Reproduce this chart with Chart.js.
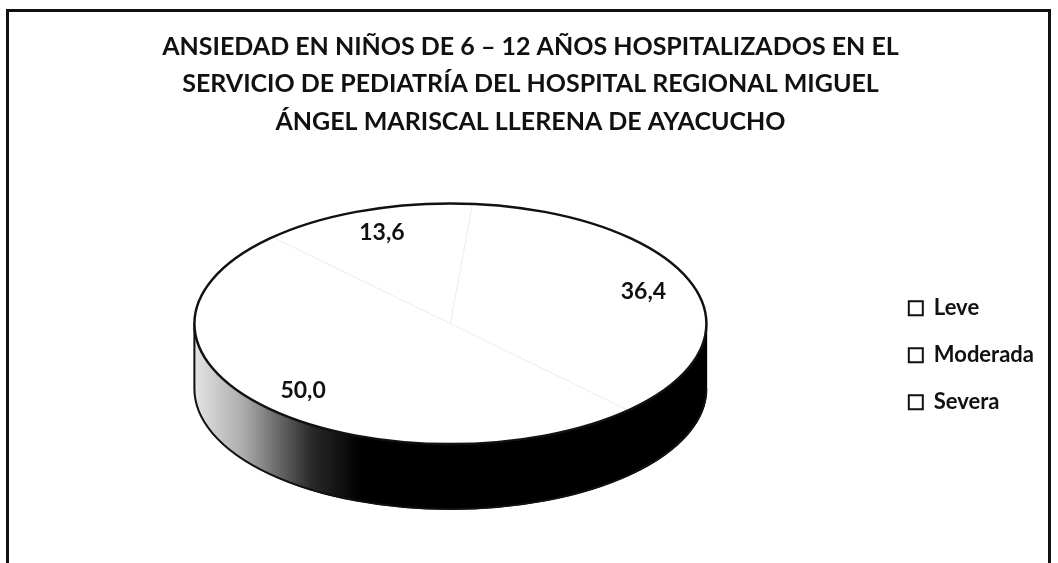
<!DOCTYPE html>
<html>
<head>
<meta charset="utf-8">
<script src="https://cdn.jsdelivr.net/npm/chart.js@4.4.0/dist/chart.umd.min.js"></script>
<style>
  html, body { margin: 0; padding: 0; background: #fff; }
  body { position: relative; width: 1058px; height: 563px; overflow: hidden; }
  #frame { position: absolute; left: 6px; top: 9px; width: 1045px; height: 620px; border: 3px solid #111; box-sizing: border-box; }
  #wrap { position: absolute; left: 0; top: 0; width: 1058px; height: 563px; }
</style>
</head>
<body>
<div id="frame"></div>
<div id="wrap"><canvas id="pieChart"></canvas></div>
<script>
const titleLines = [
    'ANSIEDAD EN NIÑOS DE 6 – 12 AÑOS HOSPITALIZADOS EN EL',
    'SERVICIO DE PEDIATRÍA DEL HOSPITAL REGIONAL MIGUEL',
    'ÁNGEL MARISCAL LLERENA DE AYACUCHO'
];
const categories = ['Leve', 'Moderada', 'Severa'];
const percentages = [13.6, 36.4, 50.0];

// look of the fake 3D pie
const tilt = 0.47;
const depth = 65;
const labelRadius = 0.8;

const pie3d = {
    id: 'pie3d',
    beforeDatasetsDraw(chart) {
        const arcs = chart.getDatasetMeta(0).data;
        if (!arcs.length) return;
        const { x, y, outerRadius: r } = arcs[0];
        const ctx = chart.ctx;

        // side wall, lit from the left
        const grad = ctx.createLinearGradient(x - r, 0, x - r * 0.35, 0);
        grad.addColorStop(0, '#e4e4e4');
        grad.addColorStop(0.3, '#aaaaaa');
        grad.addColorStop(0.7, '#2a2a2a');
        grad.addColorStop(1, '#000');
        ctx.save();
        ctx.fillStyle = grad;
        ctx.strokeStyle = grad;
        ctx.lineWidth = 1.5;
        arcs.forEach(arc => {
            for (let k = -1; k <= 1; k++) {
                const a0 = Math.max(arc.startAngle, k * 2 * Math.PI);
                const a1 = Math.min(arc.endAngle, k * 2 * Math.PI + Math.PI);
                if (a1 <= a0) continue;
                ctx.beginPath();
                ctx.ellipse(x, y, r, r * tilt, 0, a0, a1);
                ctx.ellipse(x, y + depth, r, r * tilt, 0, a1, a0, true);
                ctx.closePath();
                ctx.fill();
                ctx.stroke();
            }
        });
        ctx.beginPath();
        ctx.ellipse(x, y + depth, r, r * tilt, 0, 0, Math.PI);
        ctx.moveTo(x - r, y);
        ctx.lineTo(x - r, y + depth);
        ctx.lineWidth = 2;
        ctx.strokeStyle = '#111';
        ctx.stroke();
        ctx.restore();

        // squash the top face into an ellipse
        ctx.save();
        ctx.translate(x, y);
        ctx.scale(1, tilt);
        ctx.translate(-x, -y);
    },
    afterDatasetsDraw(chart) {
        const ctx = chart.ctx;
        ctx.restore();
        const arcs = chart.getDatasetMeta(0).data;
        if (!arcs.length) return;
        const { x, y, outerRadius: r } = arcs[0];

        ctx.save();
        ctx.beginPath();
        ctx.ellipse(x, y, r, r * tilt, 0, 0, 2 * Math.PI);
        ctx.lineWidth = 2.5;
        ctx.strokeStyle = '#111';
        ctx.stroke();

        ctx.font = 'bold 23px Lato';
        ctx.fillStyle = '#111';
        ctx.textAlign = 'center';
        ctx.textBaseline = 'middle';
        arcs.forEach((arc, i) => {
            const mid = (arc.startAngle + arc.endAngle) / 2;
            const lx = x + Math.cos(mid) * r * labelRadius;
            const ly = y + Math.sin(mid) * r * labelRadius * tilt;
            ctx.fillText(percentages[i].toFixed(1).replace('.', ','), lx, ly);
        });
        ctx.restore();
    }
};

Chart.defaults.font.family = 'Lato';
Chart.defaults.color = '#111';

const ctx = document.getElementById('pieChart').getContext('2d');
new Chart(ctx, {
    type: 'pie',
    data: {
        labels: categories,
        datasets: [{
            data: percentages,
            backgroundColor: '#fff',
            borderColor: '#ebebeb',
            borderWidth: 1,
            hoverOffset: 0,
            clip: false
        }]
    },
    options: {
        responsive: true,
        maintainAspectRatio: false,
        animation: false,
        events: [],
        rotation: -44,
        radius: 256,
        layout: {
            autoPadding: false,
            padding: { left: 17, right: 14, top: 0, bottom: 66 }
        },
        plugins: {
            title: {
                display: true,
                text: titleLines,
                color: '#111',
                font: { size: 25, weight: 'bold', lineHeight: 1.5 },
                padding: { top: 28, bottom: 10 }
            },
            legend: {
                position: 'right',
                fullSize: false,
                title: { display: true, text: '', font: { size: 10 }, padding: { top: 51 } },
                labels: {
                    boxWidth: 14,
                    boxHeight: 14,
                    padding: 25,
                    font: { size: 22, weight: 'bold' },
                    generateLabels(chart) {
                        const items = Chart.overrides.pie.plugins.legend.labels.generateLabels(chart);
                        return items.map(it => ({ ...it, fillStyle: '#fff', strokeStyle: '#111', lineWidth: 2 }));
                    }
                }
            },
            tooltip: { enabled: false }
        }
    },
    plugins: [pie3d]
});
</script>
</body>
</html>
